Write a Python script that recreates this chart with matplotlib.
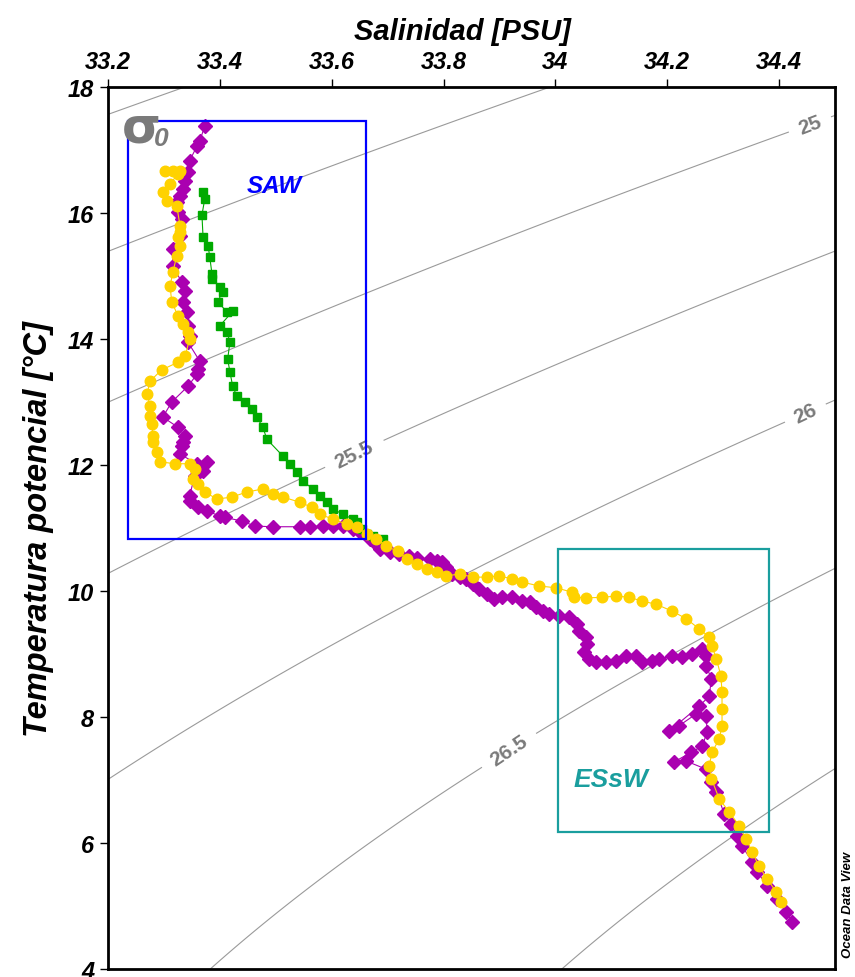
import numpy as np
import matplotlib
matplotlib.use("Agg")
import matplotlib.pyplot as plt
from matplotlib.patches import Rectangle

plt.rcParams['font.family'] = ['Liberation Sans', 'DejaVu Sans']

# --- profiles (salinity PSU, potential temperature degC) ---
purple_S = [33.373, 33.364, 33.359, 33.346, 33.343, 33.338, 33.334, 33.329, 33.323, 33.325,
            33.332, 33.329, 33.316, 33.316, 33.332, 33.338, 33.334, 33.341, 33.343, 33.346,
            33.343, 33.364, 33.361, 33.359, 33.343, 33.314, 33.298, 33.325, 33.338, 33.334,
            33.332, 33.329, 33.359, 33.377, 33.370, 33.355, 33.346, 33.346, 33.361, 33.377,
            33.400, 33.409, 33.439, 33.463, 33.495, 33.543, 33.561, 33.584, 33.602, 33.620,
            33.638, 33.650, 33.668, 33.680, 33.686, 33.704, 33.721, 33.739, 33.752, 33.775,
            33.788, 33.798, 33.805, 33.816, 33.829, 33.841, 33.852, 33.864, 33.877, 33.891,
            33.905, 33.923, 33.941, 33.954, 33.966, 33.977, 33.989, 34.007, 34.025, 34.038,
            34.043, 34.055, 34.057, 34.052, 34.061, 34.073, 34.091, 34.109, 34.127, 34.145,
            34.155, 34.173, 34.186, 34.209, 34.227, 34.245, 34.263, 34.270, 34.270, 34.279,
            34.275, 34.257, 34.204, 34.221, 34.252, 34.270, 34.271, 34.263, 34.243, 34.213,
            34.234, 34.270, 34.279, 34.288, 34.302, 34.314, 34.325, 34.334, 34.352, 34.361,
            34.379, 34.396, 34.413, 34.423]
purple_T = [17.38, 17.14, 17.06, 16.83, 16.65, 16.51, 16.38, 16.27, 16.17, 16.02,
            15.90, 15.63, 15.43, 15.16, 14.90, 14.76, 14.59, 14.43, 14.21, 14.05,
            13.95, 13.65, 13.52, 13.44, 13.25, 13.00, 12.76, 12.60, 12.46, 12.37,
            12.30, 12.17, 12.02, 12.05, 11.90, 11.83, 11.51, 11.43, 11.33, 11.27,
            11.19, 11.17, 11.11, 11.03, 11.02, 11.02, 11.02, 11.03, 11.03, 11.03,
            10.98, 10.94, 10.83, 10.75, 10.67, 10.62, 10.59, 10.56, 10.52, 10.51,
            10.48, 10.46, 10.38, 10.27, 10.22, 10.19, 10.11, 10.03, 9.95, 9.87,
            9.90, 9.90, 9.84, 9.83, 9.75, 9.68, 9.63, 9.60, 9.59, 9.48,
            9.37, 9.27, 9.16, 9.03, 8.92, 8.87, 8.87, 8.89, 8.97, 8.97,
            8.87, 8.89, 8.92, 8.97, 8.95, 9.00, 9.08, 8.97, 8.81, 8.60,
            8.33, 8.17, 7.78, 7.86, 8.05, 8.02, 7.76, 7.54, 7.44, 7.29,
            7.30, 7.17, 6.97, 6.81, 6.46, 6.30, 6.11, 5.95, 5.70, 5.54,
            5.32, 5.11, 4.90, 4.75]

yellow_S = [33.302, 33.316, 33.329, 33.325, 33.311, 33.298, 33.305, 33.323, 33.329, 33.329,
            33.325, 33.329, 33.323, 33.316, 33.311, 33.314, 33.325, 33.334, 33.343, 33.346,
            33.338, 33.325, 33.296, 33.275, 33.270, 33.275, 33.275, 33.279, 33.280, 33.280,
            33.288, 33.293, 33.320, 33.346, 33.355, 33.352, 33.361, 33.373, 33.395, 33.421,
            33.448, 33.477, 33.495, 33.513, 33.543, 33.564, 33.579, 33.602, 33.627, 33.645,
            33.663, 33.680, 33.698, 33.718, 33.734, 33.752, 33.770, 33.788, 33.805, 33.829,
            33.852, 33.877, 33.900, 33.923, 33.941, 33.971, 34.002, 34.030, 34.034, 34.055,
            34.084, 34.109, 34.132, 34.155, 34.180, 34.209, 34.234, 34.257, 34.275, 34.280,
            34.288, 34.296, 34.298, 34.298, 34.298, 34.293, 34.280, 34.275, 34.279, 34.293,
            34.311, 34.329, 34.341, 34.352, 34.364, 34.379, 34.395, 34.404]
yellow_T = [16.67, 16.67, 16.67, 16.62, 16.46, 16.33, 16.19, 16.11, 15.79, 15.70,
            15.62, 15.48, 15.32, 15.06, 14.84, 14.59, 14.37, 14.24, 14.11, 14.00,
            13.73, 13.63, 13.51, 13.33, 13.13, 12.94, 12.78, 12.65, 12.46, 12.37,
            12.21, 12.05, 12.02, 12.02, 11.94, 11.78, 11.70, 11.57, 11.46, 11.49,
            11.57, 11.62, 11.54, 11.49, 11.41, 11.33, 11.22, 11.14, 11.06, 11.02,
            10.90, 10.83, 10.71, 10.63, 10.51, 10.43, 10.35, 10.30, 10.24, 10.27,
            10.22, 10.22, 10.24, 10.19, 10.14, 10.08, 10.05, 9.98, 9.90, 9.89,
            9.90, 9.92, 9.90, 9.84, 9.79, 9.68, 9.56, 9.40, 9.27, 9.13,
            8.92, 8.65, 8.40, 8.13, 7.86, 7.65, 7.44, 7.22, 7.02, 6.70,
            6.49, 6.27, 6.06, 5.86, 5.63, 5.43, 5.22, 5.06]

green_S = [33.370, 33.373, 33.368, 33.370, 33.379, 33.382, 33.386, 33.386, 33.400, 33.405,
           33.396, 33.413, 33.423, 33.400, 33.413, 33.418, 33.414, 33.418, 33.423, 33.430,
           33.445, 33.457, 33.466, 33.477, 33.484, 33.513, 33.525, 33.538, 33.548, 33.566,
           33.579, 33.591, 33.602, 33.620, 33.638, 33.646, 33.654, 33.663, 33.673, 33.691]
green_T = [16.33, 16.22, 15.97, 15.62, 15.48, 15.30, 15.03, 14.95, 14.83, 14.75,
           14.59, 14.43, 14.44, 14.21, 14.11, 13.95, 13.68, 13.48, 13.25, 13.10,
           13.00, 12.89, 12.76, 12.60, 12.41, 12.14, 12.02, 11.89, 11.75, 11.62,
           11.51, 11.41, 11.30, 11.22, 11.14, 11.10, 10.98, 10.90, 10.87, 10.83]

# water mass boxes: (S_min, S_max, T_min, T_max)
saw_box = (33.235, 33.662, 10.83, 17.46)
essw_box = (34.004, 34.382, 6.17, 10.67)

sigma_levels = [24.0, 24.5, 25.0, 25.5, 26.0, 26.5, 27.0, 27.5]
sigma_label_pos = [(34.455, 17.41), (33.641, 12.17), (34.445, 12.86), (33.909, 7.57)]


def sigma0(S, T):
    # UNESCO EOS-80 at surface pressure
    rho_w = (999.842594 + 6.793952e-2 * T - 9.095290e-3 * T**2 + 1.001685e-4 * T**3
             - 1.120083e-6 * T**4 + 6.536332e-9 * T**5)
    A = 0.824493 - 4.0899e-3 * T + 7.6438e-5 * T**2 - 8.2467e-7 * T**3 + 5.3875e-9 * T**4
    B = -5.72466e-3 + 1.0227e-4 * T - 1.6546e-6 * T**2
    return rho_w + A * S + B * S**1.5 + 4.8314e-4 * S**2 - 1000.0


fig = plt.figure(figsize=(8.55, 9.78), dpi=100)
ax = fig.add_axes([0.1263, 0.0082, 0.8503, 0.9018])

# isopycnals
sg, tg = np.meshgrid(np.linspace(33.1, 34.6, 300), np.linspace(3.5, 18.5, 300))
cs = ax.contour(sg, tg, sigma0(sg, tg), levels=sigma_levels, colors='#9a9a9a',
                linewidths=0.8, zorder=1)
lbls = ax.clabel(cs, manual=sigma_label_pos, inline=True, inline_spacing=8,
                 fontsize=15, fmt=lambda v: f'{v:g}', colors='#7a7a7a')
for t in lbls:
    t.set_fontweight('bold')

# profiles
ax.plot(purple_S, purple_T, color='#aa00b0', lw=0.8, marker='D', ms=7.2,
        mec='#aa00b0', mfc='#aa00b0', zorder=3)
ax.plot(green_S, green_T, color='#00aa00', lw=0.8, marker='s', ms=6.3,
        mec='#00aa00', mfc='#00aa00', zorder=4)
ax.plot(yellow_S, yellow_T, color='#ffd200', lw=0.8, marker='o', ms=7.6,
        mec='#ffd200', mfc='#ffd200', zorder=5)

# water mass boxes
for (s0, s1, t0, t1), col in [(saw_box, '#0000ff'), (essw_box, '#1a9e9e')]:
    ax.add_patch(Rectangle((s0, t0), s1 - s0, t1 - t0, fill=False, ec=col, lw=1.6, zorder=6))

ax.text(33.498, 16.43, 'SAW', color='#0000ff', fontsize=17.5, fontweight='bold',
        fontstyle='italic', ha='center', va='center', zorder=7)
ax.text(34.1, 7.02, 'ESsW', color='#1a9e9e', fontsize=19, fontweight='bold',
        fontstyle='italic', ha='center', va='center', zorder=7)

# sigma-0 symbol
ax.text(33.224, 17.13, '\u03c3', color='#7a7a7a', fontsize=36, fontweight='bold',
        ha='left', va='baseline', family='DejaVu Sans', zorder=7)
ax.text(33.282, 17.08, '0', color='#7a7a7a', fontsize=19, fontweight='bold',
        fontstyle='italic', ha='left', va='baseline', zorder=7)

ax.set_xlim(33.2, 34.5)
ax.set_ylim(4, 18)
ax.set_xticks([33.2, 33.4, 33.6, 33.8, 34.0, 34.2, 34.4])
ax.set_xticklabels(['33.2', '33.4', '33.6', '33.8', '34', '34.2', '34.4'])
ax.set_yticks([4, 6, 8, 10, 12, 14, 16, 18])
ax.xaxis.tick_top()
ax.xaxis.set_label_position('top')
ax.tick_params(direction='out', length=6, width=1, labelsize=17, pad=4)
for lab in ax.get_xticklabels() + ax.get_yticklabels():
    lab.set_fontweight('bold')
    lab.set_fontstyle('italic')
for sp in ax.spines.values():
    sp.set_linewidth(2)

ax.set_xlabel('Salinidad [PSU]', fontsize=21, fontweight='bold', fontstyle='italic', labelpad=10)
ax.xaxis.set_label_coords(0.488, 1.055)
ax.set_ylabel('Temperatura potencial [\u00b0C]', fontsize=23.5, fontweight='bold',
              fontstyle='italic', labelpad=10)

fig.text(0.992, 0.075, 'Ocean Data View', rotation=90, fontsize=9.5, fontweight='bold',
         fontstyle='italic', ha='center', va='center')

fig.savefig('out.png', dpi=100)
